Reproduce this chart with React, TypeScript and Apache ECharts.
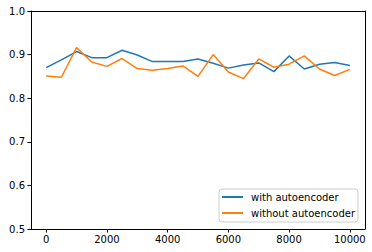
import React, { useEffect, useRef } from "react";
import * as echarts from "echarts";

const xValues = [0, 500, 1000, 1500, 2000, 2500, 3000, 3500, 4000, 4500, 5000, 5500, 6000, 6500, 7000, 7500, 8000, 8500, 9000, 9500, 10000];
const withAutoencoder = [0.870, 0.888, 0.907, 0.893, 0.893, 0.910, 0.899, 0.884, 0.884, 0.884, 0.890, 0.880, 0.869, 0.876, 0.881, 0.861, 0.897, 0.867, 0.878, 0.882, 0.875];
const withoutAutoencoder = [0.851, 0.848, 0.916, 0.883, 0.873, 0.891, 0.868, 0.864, 0.868, 0.874, 0.850, 0.900, 0.860, 0.845, 0.890, 0.871, 0.878, 0.897, 0.867, 0.852, 0.866];
const xTicks = [0, 2000, 4000, 6000, 8000, 10000];
const seriesNames = ["with autoencoder", "without autoencoder"];

export default function App() {
  const ref = useRef<HTMLDivElement>(null);
  useEffect(() => {
    if (!ref.current) return;
    const chart = echarts.init(ref.current, null, { renderer: "svg" });
    const font = "DejaVu Sans";
    const frameAxis = {
      axisLine: { show: true, onZero: false, lineStyle: { color: "#000", width: 1 } },
      axisTick: { show: false },
      axisLabel: { show: false },
      splitLine: { show: false },
    };
    chart.setOption({
      animation: false,
      backgroundColor: "#ffffff",
      textStyle: { fontFamily: font },
      grid: { left: 31, right: 7, top: 11, bottom: 23 },
      xAxis: [
        {
          type: "value",
          min: -500,
          max: 10500,
          axisLine: { show: true, onZero: false, lineStyle: { color: "#000", width: 1 } },
          axisTick: { show: true, inside: false, length: 3.5, customValues: xTicks, lineStyle: { color: "#000" } },
          axisLabel: {
            customValues: xTicks,
            color: "#000",
            fontSize: 10,
            fontFamily: font,
            margin: 5,
            formatter: (v: number) => String(v),
          },
          splitLine: { show: false },
        },
        { type: "value", position: "top", min: -500, max: 10500, ...frameAxis },
      ],
      yAxis: [
        {
          type: "value",
          min: 0.5,
          max: 1.0,
          interval: 0.1,
          axisLine: { show: true, onZero: false, lineStyle: { color: "#000", width: 1 } },
          axisTick: { show: true, inside: false, length: 3.5, lineStyle: { color: "#000" } },
          axisLabel: {
            color: "#000",
            fontSize: 10,
            fontFamily: font,
            margin: 6,
            formatter: (v: number) => v.toFixed(1),
          },
          splitLine: { show: false },
        },
        { type: "value", position: "right", min: 0.5, max: 1.0, ...frameAxis },
      ],
      legend: {
        orient: "vertical",
        left: 219,
        top: 189,
        padding: [2, 3, 3, 3],
        itemGap: 4,
        itemWidth: 21,
        itemHeight: 2,
        icon: "rect",
        backgroundColor: "rgba(255,255,255,0.8)",
        borderColor: "#cccccc",
        borderWidth: 1,
        borderRadius: 3,
        textStyle: { color: "#000", fontSize: 10, fontFamily: font, lineHeight: 12, padding: [0, 0, 0, 3] },
        data: seriesNames,
      },
      series: [
        {
          name: seriesNames[0],
          type: "line",
          showSymbol: false,
          color: "#1f77b4",
          lineStyle: { width: 1.5, color: "#1f77b4" },
          data: xValues.map((x, i) => [x, withAutoencoder[i]]),
        },
        {
          name: seriesNames[1],
          type: "line",
          showSymbol: false,
          color: "#ff7f0e",
          lineStyle: { width: 1.5, color: "#ff7f0e" },
          data: xValues.map((x, i) => [x, withoutAutoencoder[i]]),
        },
      ],
    });
    return () => chart.dispose();
  }, []);
  return (
    <div
      ref={ref}
      style={{ position: "fixed", left: 0, top: 0, width: 372, height: 252 }}
    />
  );
}
